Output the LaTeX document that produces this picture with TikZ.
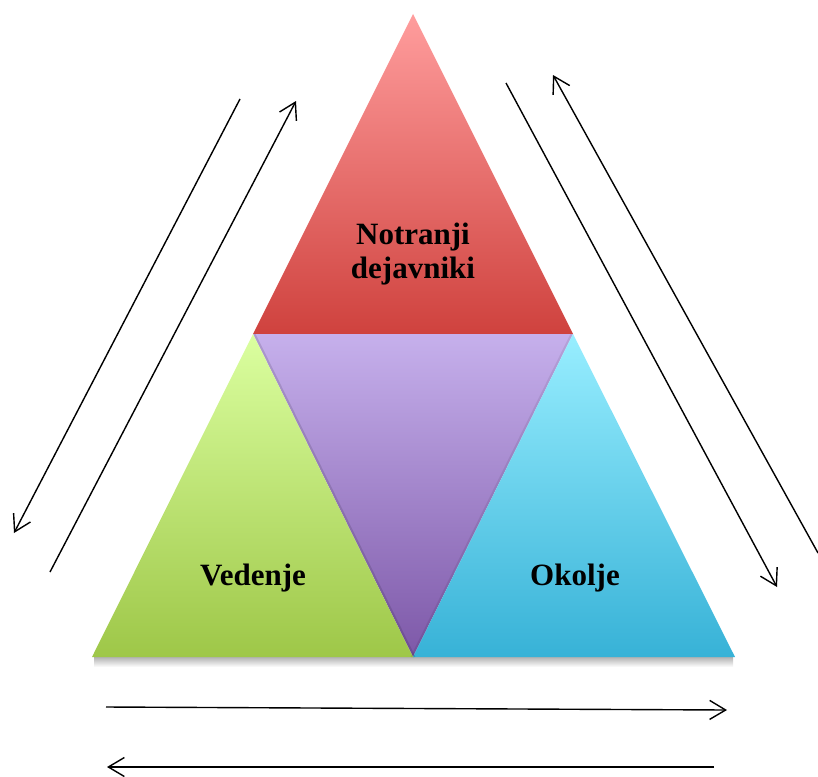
\documentclass[tikz,border=0pt]{standalone}
\usepackage{fontspec}
\setmainfont{Liberation Serif}
\usetikzlibrary{arrows.meta}
\definecolor{redtop}{RGB}{255,157,157}
\definecolor{redbot}{RGB}{207,66,62}
\definecolor{greentop}{RGB}{219,255,160}
\definecolor{greenbot}{RGB}{158,199,72}
\definecolor{cyantop}{RGB}{152,238,255}
\definecolor{cyanbot}{RGB}{55,178,215}
\definecolor{purpletop}{RGB}{198,176,236}
\definecolor{purplebot}{RGB}{125,88,168}
\begin{document}
\begin{tikzpicture}[x=1pt,y=-1pt,
  flow/.style={line width=1.4pt,
    -{Straight Barb[length=16pt,width=19pt,line width=1.4pt]}},
  caption/.style={font=\fontsize{31}{34}\selectfont\bfseries, align=center}]
\useasboundingbox (0,0) rectangle (818,776);

% triangle corners
\coordinate (apex) at (413,14);
\coordinate (ml) at (253,334);
\coordinate (mr) at (573,334);
\coordinate (bl) at (92,657);
\coordinate (bm) at (413,657);
\coordinate (br) at (735,657);

% soft shadow under the base
\shade[top color=black!30, bottom color=white] (bl) ++(2,0) rectangle ([xshift=-2pt,yshift=-10pt]br);

% four shaded triangles
\shade[top color=redtop, bottom color=redbot] (apex) -- (mr) -- (ml) -- cycle;
\shade[top color=purpletop, bottom color=purplebot] (ml) -- (mr) -- (bm) -- cycle;
\shade[top color=greentop, bottom color=greenbot] (ml) -- (bm) -- (bl) -- cycle;
\shade[top color=cyantop, bottom color=cyanbot] (mr) -- (br) -- (bm) -- cycle;
% faint edge shadows on the middle triangle
\draw[black, opacity=0.12, line width=2pt] ([xshift=1.5pt]ml) -- ([xshift=1.5pt]bm);
\draw[black, opacity=0.08, line width=2pt] ([xshift=-1.5pt]mr) -- ([xshift=-1.5pt]bm);

% labels
\node[caption] (inner) at (413,254) {Notranji\\dejavniki};
\node[caption] (know) at (253,578) {Vedenje};
\node[caption] (env) at (575,578) {Okolje};

% arrow end points, left side
\coordinate (l1s) at (240,99);
\coordinate (l1e) at (14,533);
\coordinate (l2s) at (50,572);
\coordinate (l2e) at (296,101);
% right side
\coordinate (r1s) at (506,83);
\coordinate (r1e) at (777,587);
\coordinate (r2s) at (818,553);
\coordinate (r2e) at (553,75);
% bottom
\coordinate (b1s) at (106,707);
\coordinate (b1e) at (727,710);
\coordinate (b2s) at (714,767);
\coordinate (b2e) at (107,767);

\draw[flow] (l1s) -- (l1e);
\draw[flow] (l2s) -- (l2e);
\draw[flow] (r1s) -- (r1e);
\draw[flow] (r2s) -- (r2e);
\draw[flow] (b1s) -- (b1e);
\draw[flow] (b2s) -- (b2e);
\end{tikzpicture}
\end{document}
